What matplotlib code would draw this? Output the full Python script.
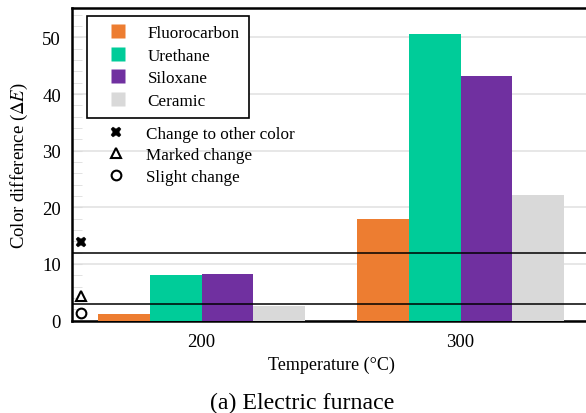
import matplotlib
matplotlib.use("Agg")
import matplotlib.pyplot as plt
import numpy as np
from matplotlib.lines import Line2D
from matplotlib.ticker import MultipleLocator

plt.rcParams['font.family'] = ['Liberation Serif', 'DejaVu Serif']
plt.rcParams['mathtext.fontset'] = 'stix'

# Data
temperatures = ["200", "300"]
materials = ["Fluorocarbon", "Urethane", "Siloxane", "Ceramic"]
fluorocarbon = [1.2, 18.0]
urethane = [8.1, 50.6]
siloxane = [8.3, 43.2]
ceramic = [2.5, 22.2]
colors = ["#ED7D31", "#00CC99", "#7030A0", "#D9D9D9"]

# Evaluation thresholds and their symbols
thresholds = [3, 12]
symbol_levels = [13.9, 4.3, 1.4]
symbol_markers = ["X", "^", "o"]
symbol_labels = ["Change to other color", "Marked change", "Slight change"]


def marker_style(m):
    if m == "X":
        return dict(marker=m, ms=7.5, mfc="black", mec="black", mew=0.3)
    return dict(marker=m, ms=7, mfc="white", mec="black", mew=1.5)


W, H = 586, 414
fig = plt.figure(figsize=(W / 100, H / 100), dpi=100)
# axes runs a little past the right edge of the canvas
ax = fig.add_axes([72 / W, 1 - 321.5 / H, (590 - 72) / W, (321.5 - 9) / H])

x = np.arange(len(temperatures))
width = 0.2
series = [fluorocarbon, urethane, siloxane, ceramic]
for i, (vals, c) in enumerate(zip(series, colors)):
    ax.bar(x + (i - 1.5) * width, vals, width, color=c, zorder=3)

for t in thresholds:
    ax.axhline(t, color="black", lw=1.1, zorder=4)

xm = -0.465
for lvl, m in zip(symbol_levels, symbol_markers):
    ax.plot(xm, lvl, ls="none", zorder=5, clip_on=False, **marker_style(m))

ax.set_xlim(-0.5, 1.5)
ax.set_ylim(0, 55.2)
ax.set_xticks(x)
ax.set_xticklabels(temperatures)
ax.set_yticks([0, 10, 20, 30, 40, 50])
ax.yaxis.set_minor_locator(MultipleLocator(2))
ax.tick_params(axis="x", length=0, labelsize=13.5, pad=9)
ax.tick_params(axis="y", which="both", direction="in", color="#dddddd", length=7, labelsize=13.5, pad=8)
ax.grid(axis="y", which="major", color="#e3e3e3", lw=1.2, zorder=0)

for side in ["left", "bottom", "top"]:
    ax.spines[side].set_linewidth(1.8)
ax.spines["right"].set_visible(False)

ax.set_ylabel(r"Color difference ($\Delta E$)", fontsize=13.5, labelpad=9)

# x label and caption placed in figure coordinates
fig.text(331 / W, 1 - 365 / H, "Temperature (°C)", ha="center", va="center", fontsize=13)
fig.text(302 / W, 1 - 403 / H, "(a) Electric furnace", ha="center", va="center", fontsize=17.2)

handles = [Line2D([], [], ls="none", marker="s", ms=9.5, mfc=c, mec="none") for c in colors]
leg1 = ax.legend(handles, materials, loc="upper left", bbox_to_anchor=(15 / 518, 1 - 8 / 312.5),
                 fontsize=12.3, frameon=True, fancybox=False, edgecolor="black",
                 handlelength=2.5, handletextpad=0.5, borderpad=0.55,
                 labelspacing=0.38, borderaxespad=0, framealpha=1)
leg1.get_frame().set_linewidth(1.2)
leg1.set_zorder(6)
ax.add_artist(leg1)

sym_handles = [Line2D([], [], ls="none", **marker_style(m)) for m in symbol_markers]
leg2 = ax.legend(sym_handles, symbol_labels, loc="upper left", bbox_to_anchor=(15 / 518, 1 - 110 / 312.5),
                 fontsize=12.3, frameon=False, handlelength=2.5, handletextpad=0.5,
                 borderpad=0.45, labelspacing=0.33, borderaxespad=0)

fig.savefig("out.png", dpi=100)
